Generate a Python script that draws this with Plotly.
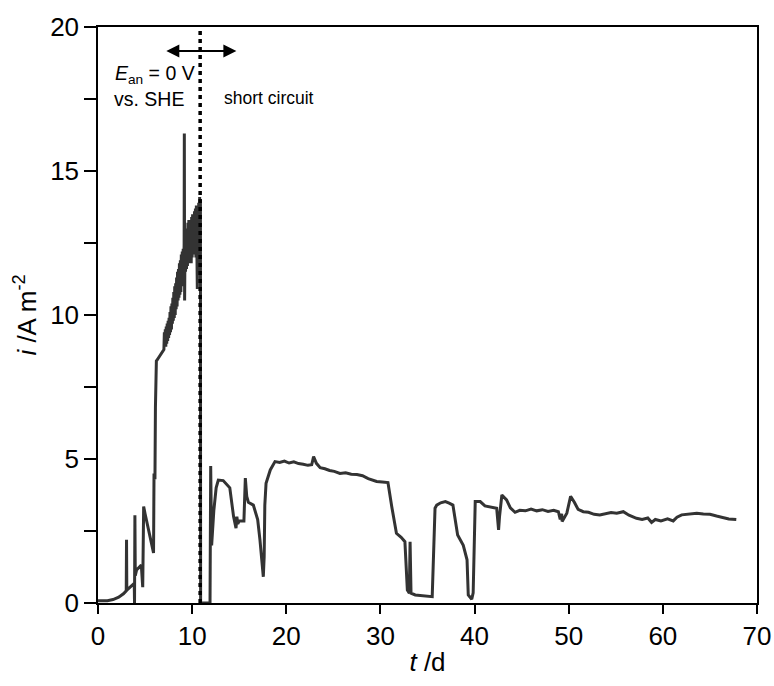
import plotly.graph_objects as go

# time in days and current density in A m^-2
t_d = [0, 0.5, 1.0, 1.6, 2.2, 2.7, 3.0, 3.03, 3.06, 3.5, 3.85, 3.88, 3.92, 3.96, 4.1, 4.4, 4.6,
       4.75, 4.85, 5.0, 5.35, 5.9, 5.95, 6.05, 6.1, 6.2, 6.4, 6.6, 6.8,
       7.0, 7.05, 7.1, 7.15, 7.2, 7.25, 7.3, 7.35, 7.4, 7.45, 7.5, 7.55, 7.6, 7.65, 7.7, 7.75,
       7.8, 7.85, 7.9, 7.95, 8.0, 8.05, 8.1, 8.15, 8.2, 8.25, 8.3, 8.35, 8.4, 8.45, 8.5, 8.55,
       8.6, 8.65, 8.7, 8.75, 8.8, 8.85, 8.9, 8.95, 9.0, 9.05, 9.1, 9.15, 9.17, 9.2, 9.25, 9.3,
       9.35, 9.4, 9.45, 9.5, 9.55, 9.6, 9.65, 9.7, 9.75, 9.8, 9.85, 9.9, 9.95, 10.0, 10.05, 10.1,
       10.15, 10.2, 10.25, 10.3, 10.35, 10.4, 10.45, 10.5, 10.55, 10.6, 10.65, 10.7, 10.75, 10.8,
       10.85, 10.88, 10.9,
       11.9, 11.97, 12.07, 12.3, 12.55, 12.78, 13.3, 14.0, 14.4, 14.66, 14.75, 14.85, 15.0, 15.5,
       15.65, 15.8, 15.97, 16.5, 16.96, 17.2, 17.4, 17.56, 17.65, 17.72, 17.85, 18.3, 18.8, 19.3,
       19.8, 20.3, 20.8, 21.3, 21.8, 22.3, 22.7, 22.9, 23.2, 23.6, 24.1, 24.6, 25.1, 25.7, 26.3,
       26.9, 27.5, 28.1, 28.7, 29.1, 29.6, 30.2, 30.8, 31.2, 31.7, 32.2, 32.6, 32.86, 33.07, 33.15,
       33.25, 33.7, 34.5, 35.5, 35.8, 35.98, 36.4, 36.9, 37.3, 37.7, 38.2, 38.8, 39.2, 39.33, 39.7,
       39.85, 40.07, 40.6, 41.1, 41.7, 42.35, 42.55, 42.65, 42.9, 43.4, 43.8, 44.3, 44.8, 45.4,
       46.0, 46.6, 47.2, 47.8, 48.4, 48.9, 49.1, 49.25, 49.3, 49.8, 50.2, 50.6, 51.0, 51.55, 52.1,
       52.7, 53.3, 53.9, 54.5, 55.1, 55.8, 56.4, 57.2, 57.8, 58.4, 58.8, 59.2, 59.8, 60.5, 61.1,
       61.5, 62.0, 62.8, 63.6, 64.3, 65.0, 65.7, 66.3, 67.0, 67.8]

i_Am2 = [0.08, 0.07, 0.08, 0.12, 0.2, 0.32, 0.42, 2.2, 0.45, 0.58, 0.68, 0.0, 3.05, 0.95, 1.15, 1.25, 1.32,
         0.55, 3.35, 3.1, 2.6, 1.74, 4.5, 4.3, 6.8, 8.4, 8.5, 8.6, 8.7,
         8.8, 9.4, 8.9, 9.5, 8.9, 9.6, 9.0, 9.7, 9.1, 9.8, 9.2, 9.9, 9.3, 10.1, 9.4, 10.3,
         9.5, 10.4, 9.7, 10.6, 9.8, 10.8, 9.9, 11.0, 10.0, 11.1, 10.2, 11.3, 10.3, 11.5, 10.5, 11.6,
         10.6, 11.8, 10.7, 11.9, 10.8, 12.1, 11.0, 12.2, 11.1, 12.3, 11.2, 12.5, 16.3, 10.5, 12.7, 11.5,
         12.9, 11.6, 13.0, 11.7, 13.2, 11.8, 13.3, 11.9, 13.2, 12.0, 13.1, 11.8, 13.4, 12.0, 13.5, 12.1,
         13.4, 12.2, 13.6, 12.1, 13.7, 12.0, 13.8, 12.2, 10.9, 13.7, 12.3, 13.9, 12.4, 14.1,
         11.4, 14.0, 0.0,
         0.0, 4.76, 2.0, 3.2, 4.0, 4.27, 4.25, 4.0, 3.0, 2.6, 3.0, 2.75, 2.85, 2.85,
         4.34, 3.7, 3.5, 3.4, 2.9, 2.2, 1.5, 0.91, 1.6, 3.4, 4.16, 4.62, 4.91, 4.88,
         4.93, 4.86, 4.9, 4.84, 4.82, 4.78, 4.8, 5.08, 4.85, 4.7, 4.66, 4.6, 4.57, 4.5, 4.52,
         4.47, 4.46, 4.42, 4.32, 4.27, 4.22, 4.2, 4.18, 3.35, 2.42, 2.28, 2.13, 0.45, 0.34, 2.13,
         0.34, 0.28, 0.25, 0.22, 3.29, 3.4, 3.48, 3.52, 3.47, 3.4, 2.36, 2.0, 1.5, 0.28, 0.13,
         0.35, 3.52, 3.52, 3.37, 3.32, 3.29, 2.54, 3.0, 3.75, 3.58, 3.3, 3.15, 3.22, 3.2,
         3.26, 3.2, 3.24, 3.18, 3.22, 3.17, 2.9, 3.1, 2.83, 3.12, 3.7, 3.5, 3.25, 3.17, 3.15,
         3.08, 3.06, 3.1, 3.14, 3.12, 3.17, 3.05, 2.94, 2.9, 2.95, 2.8, 2.9, 2.85, 2.92, 2.85,
         2.98, 3.06, 3.1, 3.12, 3.09, 3.08, 3.02, 2.98, 2.92, 2.9]

switch_t = 10.85          # switch from E_an = 0 V to short circuit
arrow_from, arrow_to, arrow_y = 7.1, 14.7, 19.17

FONT = "Liberation Sans, Arial, sans-serif"

fig = go.Figure()
fig.add_trace(go.Scatter(x=t_d, y=i_Am2, mode="lines",
                         line=dict(color="#333333", width=3), showlegend=False,
                         hoverinfo="skip"))

fig.add_shape(type="line", x0=switch_t, x1=switch_t, y0=0, y1=20, xref="x", yref="y",
              line=dict(color="black", width=3.5, dash="4px,4px"))

fig.add_annotation(x=arrow_to, y=arrow_y, ax=arrow_from, ay=arrow_y, xref="x", yref="y",
                   axref="x", ayref="y", showarrow=True, arrowhead=2, arrowside="end+start",
                   arrowsize=1.3, arrowwidth=2, arrowcolor="black", text="")

fig.add_annotation(x=1.55, y=18.35, xref="x", yref="y", showarrow=False, xanchor="left",
                   yanchor="middle", text="<i>E</i><sub>an</sub> = 0 V",
                   font=dict(family=FONT, size=19.5, color="black"))
fig.add_annotation(x=1.5, y=17.5, xref="x", yref="y", showarrow=False, xanchor="left",
                   yanchor="middle", text="vs. SHE",
                   font=dict(family=FONT, size=19.5, color="black"))
fig.add_annotation(x=13.2, y=17.55, xref="x", yref="y", showarrow=False, xanchor="left",
                   yanchor="middle", text="short circuit",
                   font=dict(family=FONT, size=17.5, color="black"))

axis_common = dict(showline=True, linecolor="black", linewidth=1.5, mirror=True,
                   ticks="outside", tickwidth=1.5, tickcolor="black",
                   showgrid=False, zeroline=False, automargin=False,
                   tickfont=dict(family=FONT, size=26, color="black"))

fig.update_xaxes(range=[0, 70], dtick=10, tick0=0, ticklen=9,
                 title=dict(text="<i>t</i> /d", font=dict(family=FONT, size=26, color="black"),
                            standoff=3),
                 **axis_common)
fig.update_yaxes(range=[0, 20], dtick=5, tick0=0, ticklen=12,
                 minor=dict(dtick=2.5, ticks="outside", ticklen=12, tickwidth=1.5,
                            tickcolor="black", showgrid=False),
                 title=dict(text="<i>i</i> /A m<sup>-2</sup>",
                            font=dict(family=FONT, size=26, color="black"), standoff=6),
                 **axis_common)

fig.update_layout(width=774, height=686, plot_bgcolor="white", paper_bgcolor="white",
                  margin=dict(l=98, r=17, t=27, b=83), font=dict(family=FONT))

fig.write_html("out.html", config={"displayModeBar": False},
               post_script="document.body.style.margin='0';")
